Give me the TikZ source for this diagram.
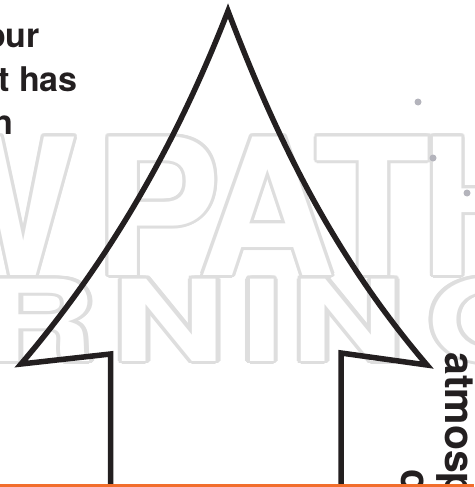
\documentclass[tikz,border=0pt]{standalone}
\usepackage{fontspec}
\setmainfont{TeX Gyre Heros}
\usepackage{contour}
\contourlength{3pt}
\definecolor{arrowink}{HTML}{231F20}
\definecolor{markgray}{HTML}{DEDEDE}
\definecolor{dotgray}{HTML}{B4B4BC}
\definecolor{rulecolor}{HTML}{F26E2C}

\begin{document}
\begin{tikzpicture}[
  x=1pt,y=-1pt,
  outline/.style={draw=arrowink,line width=5.5pt,line join=miter,miter limit=10},
  body/.style={font=\fontsize{34}{41}\selectfont\bfseries,inner sep=0pt,text=arrowink},
  side/.style={body,font=\fontsize{41}{44}\selectfont\bfseries,rotate=-90,anchor=base west},
  bigmark/.style={inner sep=0pt,anchor=base,text=white,font=\fontsize{190}{190}\selectfont\bfseries},
  smallmark/.style={bigmark,font=\fontsize{113}{113}\selectfont\bfseries,xscale=1.4},
  dot/.style={circle,fill=dotgray,inner sep=0pt,minimum size=7pt}
]
\useasboundingbox (0,0) rectangle (474,487);
\clip (0,0) rectangle (474,487);

% watermark
\node[bigmark] (wW) at (-13,275) {\contour{markgray}{W}};
\node[bigmark] (wP) at (158,275) {\contour{markgray}{P}};
\node[bigmark] (wA) at (267,275) {\contour{markgray}{A}};
\node[bigmark] (wT) at (373,275) {\contour{markgray}{T}};
\node[bigmark] (wH) at (489,275) {\contour{markgray}{H}};
\node[smallmark] (wR) at (40,361) {\contour{markgray}{R}};
\node[smallmark] (wN) at (169,361) {\contour{markgray}{N}};
\node[smallmark] (wI) at (262,361) {\contour{markgray}{I}};
\node[smallmark] (wN2) at (348,361) {\contour{markgray}{N}};
\node[smallmark] (wG) at (488,361) {\contour{markgray}{G}};

% text cut at the left edge
\node[body,anchor=base east] (l1) at (40,48) {our};
\node[body,anchor=base east] (l2) at (78,92) {t has};
\node[body,anchor=base east] (l3) at (13,134) {n};

% the arrow
\draw[outline] (110.5,495) -- (110.5,354) -- (21,364)
  .. controls (121,247) and (184,124) .. (228,11)
  .. controls (271,124) and (327,248) .. (427,365)
  -- (341,353) -- (341,495);

\node[dot] (d1) at (418,102) {};
\node[dot] (d2) at (433,158) {};
\node[dot] (d3) at (467,193) {};

\node[side] (r1) at (445,352) {atmosp};
\node[side] (r2) at (401,469) {c};

\fill[rulecolor] (0,483.5) rectangle (474,487);
\end{tikzpicture}
\end{document}
